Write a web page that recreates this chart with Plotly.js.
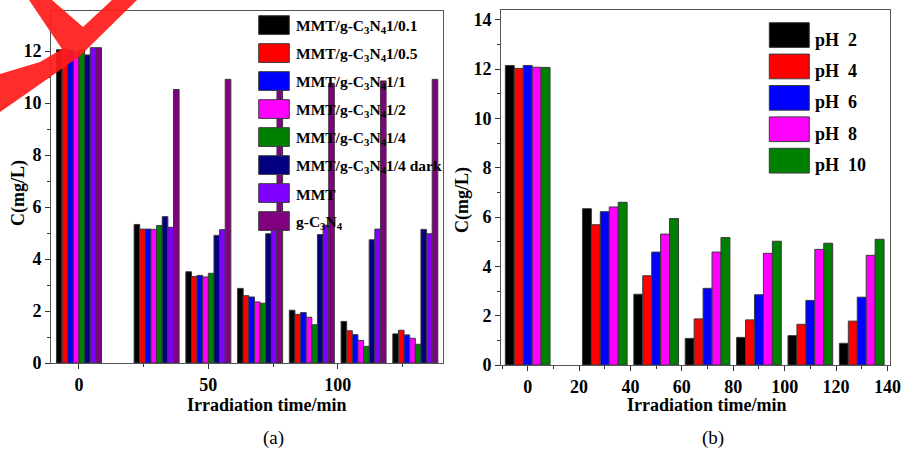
<!DOCTYPE html>
<html>
<head>
<meta charset="utf-8">
<script src="https://cdn.plot.ly/plotly-3.0.1.min.js"></script>
<style>html,body{margin:0;padding:0;background:#fff;}#chart{width:901px;height:449px;}</style>
</head>
<body>
<div id="chart"></div>
<script>
// ---------- DATA ----------
const timesA = [0, 30, 50, 70, 90, 110, 130];
const namesA = ['MMT/g-C<sub>3</sub>N<sub>4</sub>1/0.1', 'MMT/g-C<sub>3</sub>N<sub>4</sub>1/0.5', 'MMT/g-C<sub>3</sub>N<sub>4</sub>1/1',
  'MMT/g-C<sub>3</sub>N<sub>4</sub>1/2', 'MMT/g-C<sub>3</sub>N<sub>4</sub>1/4', 'MMT/g-C<sub>3</sub>N<sub>4</sub>1/4 dark', 'MMT', 'g-C<sub>3</sub>N<sub>4</sub>'];
const a_01   = [12.05, 5.33, 3.51, 2.87, 2.03, 1.60, 1.12];
const a_05   = [12.08, 5.15, 3.33, 2.59, 1.87, 1.24, 1.26];
const a_1    = [12.02, 5.15, 3.37, 2.54, 1.94, 1.09, 1.08];
const a_2    = [11.95, 5.14, 3.31, 2.35, 1.76, 0.87, 0.95];
const a_4    = [12.05, 5.29, 3.45, 2.30, 1.47, 0.64, 0.72];
const a_4dark= [11.85, 5.63, 4.91, 4.97, 4.94, 4.74, 5.14];
const a_mmt  = [12.13, 5.22, 5.13, 5.22, 5.30, 5.15, 4.97];
const a_gcn  = [12.13, 10.52, 10.91, 10.80, 10.76, 10.85, 10.91];

const timesB = [0, 30, 50, 70, 90, 110, 130];
const namesB = ['pH\u00a0\u00a02', 'pH\u00a0\u00a04', 'pH\u00a0\u00a06', 'pH\u00a0\u00a08', 'pH\u00a0\u00a010'];
const b_2  = [12.15, 6.34, 2.87, 1.08, 1.12, 1.19, 0.88];
const b_4  = [12.03, 5.69, 3.62, 1.87, 1.83, 1.65, 1.78];
const b_6  = [12.15, 6.22, 4.58, 3.11, 2.85, 2.62, 2.75];
const b_8  = [12.08, 6.41, 5.31, 4.58, 4.53, 4.69, 4.45];
const b_10 = [12.07, 6.60, 5.94, 5.17, 5.02, 4.94, 5.10];

// ---------- STYLE ----------
const W = 901, H = 449;
const px = x => x / W;
const py = y => 1 - y / H;
const FONT = 'Liberation Serif';
const colorsA = ['#000000', '#ff0000', '#0000ff', '#ff00ff', '#008000', '#000080', '#8000ff', '#800080'];
const colorsB = ['#000000', '#ff0000', '#0000ff', '#ff00ff', '#008000'];
const seriesA = [a_01, a_05, a_1, a_2, a_4, a_4dark, a_mmt, a_gcn];
const seriesB = [b_2, b_4, b_6, b_8, b_10];

const traces = [];
seriesA.forEach((s, i) => traces.push({
  type: 'bar', x: timesA, y: s, name: namesA[i], xaxis: 'x', yaxis: 'y',
  marker: {color: colorsA[i], line: {color: '#3a3a3a', width: 1}}, showlegend: false
}));
seriesB.forEach((s, i) => traces.push({
  type: 'bar', x: timesB, y: s, name: namesB[i], xaxis: 'x2', yaxis: 'y2',
  marker: {color: colorsB[i], line: {color: '#3a3a3a', width: 1}}, showlegend: false
}));

const tickFont = {family: FONT, size: 18, color: '#000', weight: 'bold'};
function axisBase(extra) {
  return Object.assign({
    showline: true, mirror: true, linecolor: '#555', linewidth: 1,
    ticks: 'outside', ticklen: 5, tickwidth: 1, tickcolor: '#333',
    showgrid: false, zeroline: false, tickfont: tickFont, fixedrange: true
  }, extra);
}

const shapes = [];
const annotations = [];
// legend (a)
namesA.forEach((n, i) => {
  const top = 15.7 + 28 * i;
  shapes.push({type: 'rect', xref: 'paper', yref: 'paper', layer: 'above',
    x0: px(258.7), x1: px(289.3), y0: py(top), y1: py(top + 18.7),
    fillcolor: colorsA[i], line: {color: '#3a3a3a', width: 1}});
  annotations.push({xref: 'paper', yref: 'paper', x: px(294), y: py(top + 10.5),
    xanchor: 'left', yanchor: 'middle', showarrow: false, text: '<b>' + n + '</b>',
    font: {family: FONT, size: 15.5, color: '#000'}});
});
// legend (b)
namesB.forEach((n, i) => {
  const top = 22.7 + 31.4 * i;
  shapes.push({type: 'rect', xref: 'paper', yref: 'paper', layer: 'above',
    x0: px(769.3), x1: px(809.3), y0: py(top), y1: py(top + 24.7),
    fillcolor: colorsB[i], line: {color: '#3a3a3a', width: 1}});
  annotations.push({xref: 'paper', yref: 'paper', x: px(813), y: py(top + 17),
    xanchor: 'left', yanchor: 'middle', showarrow: false, text: '<b>' + n + '</b>',
    font: {family: FONT, size: 18, color: '#000'}});
});
// axis titles and panel labels
const titleFont = {family: FONT, size: 18, color: '#000'};
annotations.push({xref: 'paper', yref: 'paper', x: px(267), y: py(405), xanchor: 'center', yanchor: 'middle',
  showarrow: false, text: '<b>Irradiation time/min</b>', font: titleFont});
annotations.push({xref: 'paper', yref: 'paper', x: px(707), y: py(405), xanchor: 'center', yanchor: 'middle',
  showarrow: false, text: '<b>Irradiation time/min</b>', font: titleFont});
annotations.push({xref: 'paper', yref: 'paper', x: px(18), y: py(193), xanchor: 'center', yanchor: 'middle',
  textangle: -90, showarrow: false, text: '<b>C(mg/L)</b>', font: titleFont});
annotations.push({xref: 'paper', yref: 'paper', x: px(462), y: py(200), xanchor: 'center', yanchor: 'middle',
  textangle: -90, showarrow: false, text: '<b>C(mg/L)</b>', font: titleFont});
annotations.push({xref: 'paper', yref: 'paper', x: px(273), y: py(438), xanchor: 'center', yanchor: 'middle',
  showarrow: false, text: '(a)', font: {family: FONT, size: 19, color: '#000'}});
annotations.push({xref: 'paper', yref: 'paper', x: px(713), y: py(438), xanchor: 'center', yanchor: 'middle',
  showarrow: false, text: '(b)', font: {family: FONT, size: 19, color: '#000'}});

// red check-mark decoration (top-left corner)
function pathFrom(pts) {
  return pts.map((p, i) => (i ? 'L' : 'M') + px(p[0]).toFixed(5) + ',' + py(p[1]).toFixed(5)).join(' ') + ' Z';
}
shapes.push({type: 'path', xref: 'paper', yref: 'paper', layer: 'above',
  path: pathFrom([[29, 0], [52, 0], [83, 27], [112, 0], [137, 0], [80, 56], [26, 94], [0, 112],
                  [0, 74], [40, 62], [62, 49]]),
  fillcolor: 'rgba(255,28,28,0.93)', line: {width: 0}});

const layout = {
  width: W, height: H,
  margin: {l: 0, r: 0, t: 0, b: 0},
  paper_bgcolor: '#fff', plot_bgcolor: '#fff',
  barmode: 'group', bargap: 0.13, bargroupgap: 0,
  showlegend: false,
  font: {family: FONT, color: '#000'},
  xaxis: axisBase({domain: [px(51), px(443)], range: [-10.82, 140.7], anchor: 'y',
    tickmode: 'linear', tick0: 0, dtick: 50, minor: {dtick: 25, ticklen: 3, ticks: 'outside', tickcolor: '#333'}}),
  yaxis: axisBase({domain: [py(363), py(11)], range: [0, 13.54], anchor: 'x',
    tickmode: 'linear', tick0: 0, dtick: 2, minor: {dtick: 1, ticklen: 3, ticks: 'outside', tickcolor: '#333'}}),
  xaxis2: axisBase({domain: [px(501), px(890)], range: [-10.39, 141.0], anchor: 'y2',
    tickmode: 'linear', tick0: 0, dtick: 20, minor: {dtick: 10, ticklen: 3, ticks: 'outside', tickcolor: '#333'}}),
  yaxis2: axisBase({domain: [py(365), py(10)], range: [0, 14.4], anchor: 'x2',
    tickmode: 'linear', tick0: 0, dtick: 2, minor: {dtick: 1, ticklen: 3, ticks: 'outside', tickcolor: '#333'}}),
  shapes: shapes,
  annotations: annotations
};

Plotly.newPlot('chart', traces, layout, {displayModeBar: false, staticPlot: true});
</script>
</body>
</html>
